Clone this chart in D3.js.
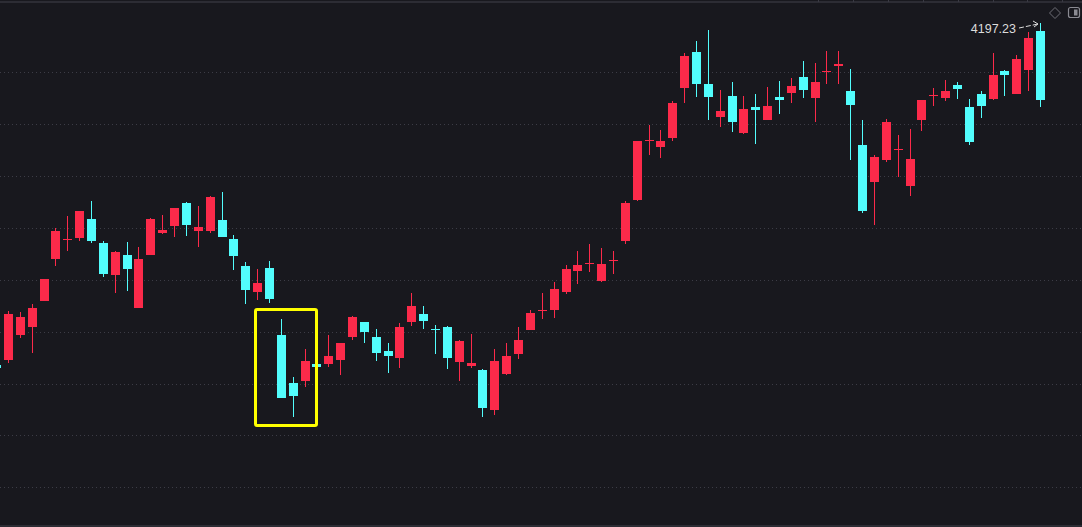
<!DOCTYPE html>
<html>
<head>
<meta charset="utf-8">
<script src="https://cdn.jsdelivr.net/npm/d3@7"></script>
<style>
  html, body { margin: 0; padding: 0; background: #18181e; overflow: hidden; }
  svg { display: block; }
</style>
</head>
<body>
<div id="chart"></div>
<script>
// Candle data (one entry per bar, left to right)
const opens  = [3867.4,3872.2,3897.2,3904.9,3929.9,3970.3,3988.0,3990.5,4008.8,3985.7,
                3954.9,3974.2,3923.2,3974.2,3995.3,4002.0,4024.2,3997.2,3997.2,4007.8,
                3989.5,3963.6,3938.6,3961.7,3897.2,3850.1,3852.0,3868.4,3868.4,3872.2,
                3895.3,3909.7,3895.3,3880.9,3874.2,3909.7,3917.4,3902.8,3904.9,3870.3,
                3866.5,3862.6,3824.2,3858.8,3878.0,3901.1,3920.8,3921.3,3938.6,3958.8,
                3966.0,3949.2,3968.8,3987.6,4027.0,4084.2,4078.0,4086.7,4134.7,4169.3,
                4138.6,4106.8,4127.0,4091.5,4116.5,4104.0,4126.1,4129.9,4145.3,4125.1,
                4150.6,4155.9,4131.8,4079.9,4044.3,4065.5,4075.6,4040.5,4104.0,4127.5,
                4125.1,4137.6,4116.5,4129.0,4124.2,4151.1,4129.0,4152.0,4189.5];
const highs  = [3871.3,3920.3,3919.3,3927.0,3951.1,4000.1,4011.7,4016.5,4026.1,3987.6,
                3978.0,3986.7,3981.8,4009.7,4012.6,4019.3,4025.1,4021.3,4030.9,4034.7,
                3993.4,3967.4,3960.7,3968.4,3912.6,3855.9,3882.8,3868.4,3896.3,3889.5,
                3915.5,3909.7,3903.0,3889.5,3908.8,3937.6,3925.1,3906.8,3905.9,3892.4,
                3898.2,3863.6,3882.8,3889.5,3904.0,3921.3,3937.6,3948.2,3964.5,3978.0,
                3984.7,3980.9,3978.0,4026.1,4083.8,4099.2,4094.3,4122.2,4168.4,4179.9,
                4190.5,4132.8,4140.5,4127.0,4129.0,4135.7,4141.5,4144.3,4160.7,4158.8,
                4170.3,4170.3,4153.0,4104.0,4070.3,4104.9,4089.5,4095.3,4123.2,4134.7,
                4142.4,4140.5,4124.2,4131.8,4168.4,4152.0,4166.5,4188.6,4197.23];
const lows   = [3861.7,3869.3,3894.3,3879.0,3929.9,3963.6,3978.0,3987.6,3985.7,3953.0,
                3937.6,3939.5,3923.2,3974.2,3994.3,3991.5,3992.4,3981.8,3995.3,3991.5,
                3959.7,3927.0,3930.9,3928.0,3835.7,3817.4,3846.3,3865.5,3865.5,3857.8,
                3892.4,3889.5,3871.3,3859.7,3864.5,3905.9,3903.0,3878.0,3863.6,3852.0,
                3864.5,3817.4,3819.3,3857.8,3873.2,3901.1,3911.7,3913.6,3936.7,3946.3,
                3957.8,3948.2,3955.9,3984.7,4026.1,4070.3,4067.4,4083.8,4120.3,4126.1,
                4104.0,4097.2,4092.4,4090.5,4080.9,4104.0,4109.7,4120.3,4125.1,4102.0,
                4138.6,4138.6,4065.5,4014.5,4003.0,4063.6,4049.2,4030.9,4093.4,4117.4,
                4122.2,4124.2,4079.9,4105.9,4123.2,4127.0,4129.0,4131.8,4116.5];
const closes = [3864.5,3917.4,3914.5,3923.2,3951.1,3997.2,3989.0,4016.5,3987.6,3955.9,
                3977.0,3960.7,3970.3,4008.8,3998.2,4019.3,4003.0,4001.1,4029.9,3991.5,
                3973.2,3940.5,3947.2,3931.8,3835.7,3837.6,3871.3,3865.5,3876.1,3889.5,
                3914.5,3899.2,3879.0,3877.0,3904.0,3925.1,3910.7,3902.0,3874.2,3890.5,
                3869.3,3826.1,3871.3,3877.0,3891.5,3918.4,3921.3,3941.5,3960.7,3964.5,
                3966.5,3965.5,3969.3,4024.2,4083.8,4084.7,4083.8,4120.3,4165.5,4138.6,
                4126.1,4112.6,4102.0,4114.5,4113.6,4117.4,4123.2,4136.7,4132.8,4140.5,
                4151.1,4157.8,4118.4,4016.5,4068.4,4102.0,4076.1,4066.5,4123.2,4128.0,
                4131.8,4133.8,4082.8,4117.4,4147.2,4147.2,4162.6,4182.8,4123.2];
const gridLevels = [3750, 3800, 3850, 3900, 3950, 4000, 4050, 4100, 4150];
const highLabel = "4197.23";
const boxFrom = 24, boxTo = 26;   // highlighted bars

const W = 1082, H = 527;
const UP = "#fc2a4a", DOWN = "#52fdfd";

const svg = d3.select("#chart").append("svg")
  .attr("width", W).attr("height", H);

svg.append("rect").attr("width", W).attr("height", H).attr("fill", "#18181e");

// top / bottom panel borders
svg.append("rect").attr("x", 0).attr("y", 1).attr("width", W).attr("height", 2).attr("fill", "#2c2c34");
svg.append("rect").attr("x", 0).attr("y", 525).attr("width", W).attr("height", 2).attr("fill", "#2c2c34");
svg.selectAll(".tk").data([818, 853, 888, 923, 958, 993, 1027, 1062]).enter()
  .append("rect").attr("x", d => d).attr("y", 0).attr("width", 1).attr("height", 2).attr("fill", "#3a3a44");

const n = opens.length;
const x = d3.scaleLinear().domain([0, n - 1]).range([-7.86, 1036]);
const y = d3.scaleLinear().domain([3750, 4200]).range([487.3, 20.3]);

// dotted grid
svg.selectAll(".grid").data(gridLevels).enter().append("line")
  .attr("x1", 0).attr("x2", W)
  .attr("y1", d => Math.round(y(d)) + 0.5).attr("y2", d => Math.round(y(d)) + 0.5)
  .attr("stroke", "#3c3c46").attr("stroke-width", 1)
  .attr("stroke-dasharray", "1,3");

const bars = d3.range(n).map(i => ({
  i, o: opens[i], h: highs[i], l: lows[i], c: closes[i], up: closes[i] >= opens[i]
}));

const g = svg.append("g");
g.selectAll(".wick").data(bars).enter().append("rect")
  .attr("x", d => Math.round(x(d.i)) + 4)
  .attr("y", d => Math.round(y(d.h)))
  .attr("width", 1)
  .attr("height", d => Math.max(1, Math.round(y(d.l)) - Math.round(y(d.h))))
  .attr("fill", d => d.up ? UP : DOWN);

g.selectAll(".body").data(bars).enter().append("rect")
  .attr("x", d => Math.round(x(d.i)))
  .attr("y", d => Math.round(y(Math.max(d.o, d.c))))
  .attr("width", 9)
  .attr("height", d => Math.max(1, Math.round(y(Math.min(d.o, d.c))) - Math.round(y(Math.max(d.o, d.c)))))
  .attr("fill", d => d.up ? UP : DOWN);

// yellow highlight box around a few bars
const bx0 = Math.round(x(boxFrom)) - 21.5, bx1 = Math.round(x(boxTo)) + 15.5;
svg.append("rect")
  .attr("x", bx0).attr("y", 309.5)
  .attr("width", bx1 - bx0).attr("height", 116)
  .attr("rx", 1.5)
  .attr("fill", "none").attr("stroke", "#ffff00").attr("stroke-width", 3);

// high marker
const last = n - 1;
const hx = Math.round(x(last)) + 4, hy = Math.round(y(highs[last]));
svg.append("text")
  .attr("x", hx - 24).attr("y", hy + 10)
  .attr("text-anchor", "end")
  .attr("font-family", "Liberation Sans, Arial, sans-serif")
  .attr("font-size", 12.5)
  .attr("fill", "#dcdcdc")
  .text(highLabel);
svg.append("path")
  .attr("d", `M${hx - 21},${hy + 5} L${hx - 2},${hy + 1}`)
  .attr("stroke", "#dcdcdc").attr("stroke-width", 1).attr("stroke-dasharray", "5,2").attr("fill", "none");
svg.append("path")
  .attr("d", `M${hx - 7},${hy - 2} L${hx - 2},${hy + 1} L${hx - 6},${hy + 4}`)
  .attr("stroke", "#dcdcdc").attr("stroke-width", 1).attr("fill", "none");

// corner icons
svg.append("path")
  .attr("d", "M1055,7.5 L1060.5,13 L1055,18.5 L1049.5,13 Z")
  .attr("fill", "none").attr("stroke", "#6e6e76").attr("stroke-width", 1);
svg.append("rect")
  .attr("x", 1068.5).attr("y", 7.5).attr("width", 11).attr("height", 10).attr("rx", 2)
  .attr("fill", "none").attr("stroke", "#8a8a92").attr("stroke-width", 1.2);
svg.append("rect")
  .attr("x", 1074).attr("y", 9.5).attr("width", 3.5).attr("height", 6)
  .attr("fill", "#8a8a92");
</script>
</body>
</html>
